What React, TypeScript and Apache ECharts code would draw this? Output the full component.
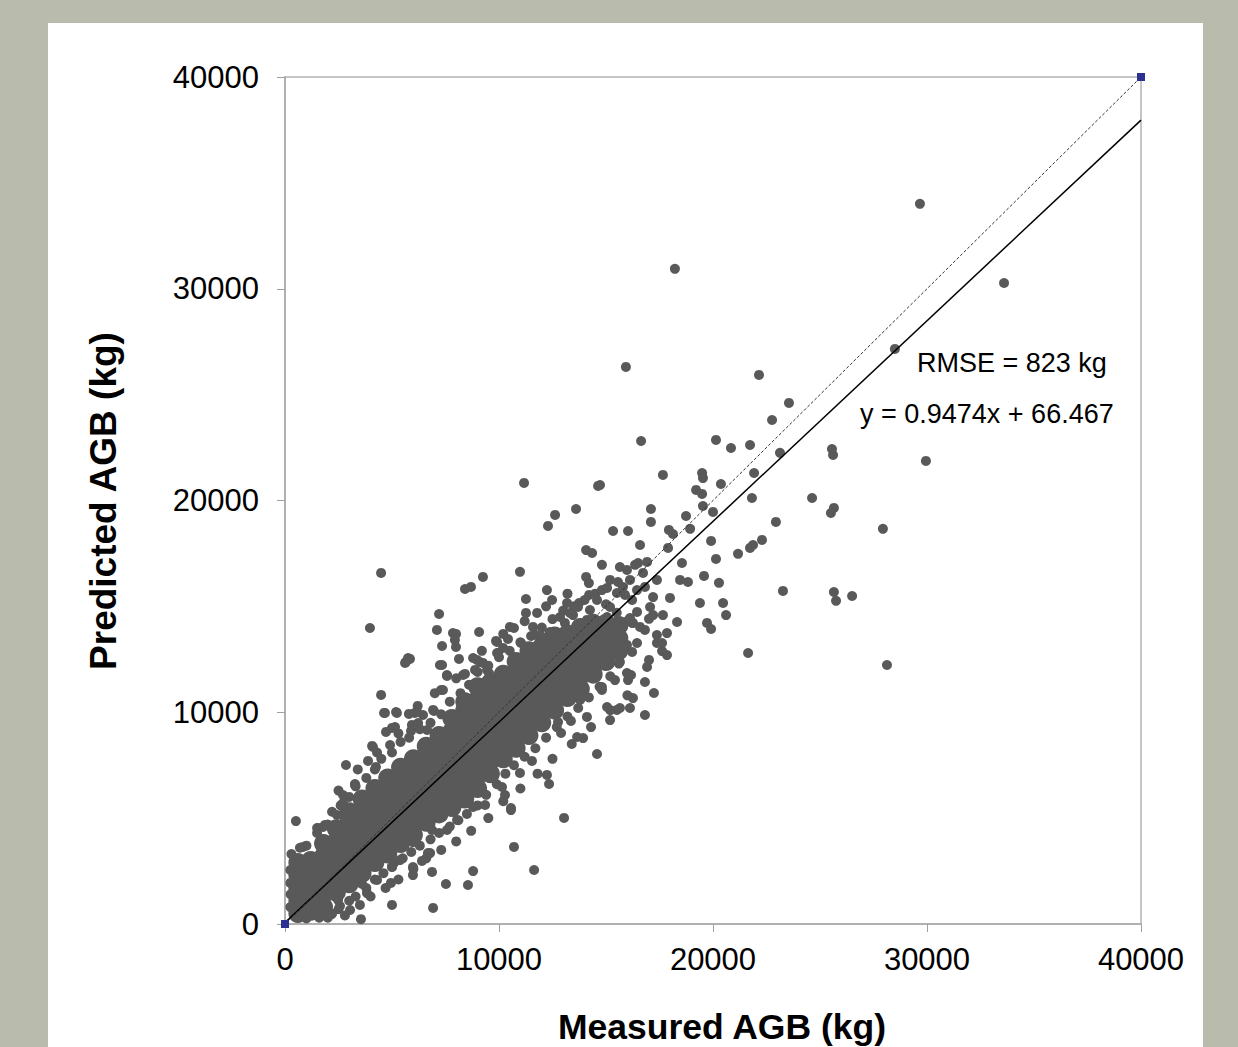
import React, { useEffect, useRef } from "react";
import * as echarts from "echarts";

// Axis ticks
const xTicks = [0, 10000, 20000, 30000, 40000];
const yTicks = [0, 10000, 20000, 30000, 40000];

// Dense core of the cloud: columns of measured x with predicted y values
const coreX = [600, 1200, 1800, 2400, 3000, 3600, 4200, 4800, 5400, 6000, 6600, 7200, 7800, 8400, 9000, 9600, 10200, 10800, 11400, 12000, 12600, 13200, 13800, 14400, 15000, 15600];
const coreY = [
  [500, 1100, 1700, 2300, 2900],
  [600, 1200, 1800, 2400, 3000],
  [800, 1400, 2000, 2600, 3200, 3800],
  [1500, 2100, 2700, 3300, 3900, 4500],
  [1900, 2500, 3100, 3700, 4300, 4900, 5300],
  [2400, 3000, 3600, 4200, 4800, 5400, 5900],
  [2900, 3500, 4100, 4700, 5300, 5900, 6400],
  [3300, 3900, 4500, 5100, 5700, 6300, 6900],
  [3800, 4400, 5000, 5600, 6200, 6800, 7400],
  [4200, 4800, 5400, 6000, 6600, 7200, 7800],
  [4800, 5400, 6000, 6600, 7200, 7800, 8400],
  [5200, 5800, 6400, 7000, 7600, 8200, 8900],
  [5500, 6100, 6700, 7300, 7900, 8500, 9100, 9700],
  [5900, 6500, 7100, 7700, 8300, 8900, 9500, 10100, 10500],
  [6400, 7000, 7600, 8200, 8800, 9400, 10000, 10600, 11200],
  [7100, 7700, 8300, 8900, 9500, 10100, 10700, 11400],
  [7800, 8400, 9000, 9600, 10200, 10800, 11400, 11800],
  [8300, 8900, 9500, 10100, 10700, 11300, 11900, 12400],
  [8900, 9500, 10100, 10700, 11300, 11900, 12500, 12900],
  [9500, 10100, 10700, 11300, 11900, 12500, 13100],
  [10100, 10700, 11300, 11900, 12500, 13100, 13600],
  [10700, 11300, 11900, 12500, 13100, 13700],
  [11100, 11700, 12300, 12900, 13500, 14000],
  [11800, 12400, 13000, 13600, 14200],
  [12400, 13000, 13600, 14200],
  [12900, 13500, 14100],
];

// Individual trees (measured, predicted) outside the dense core
const treePoints: [number, number][] = [
  [29670, 34010], [33600, 30270], [15930, 26310], [18220, 30940], [28500, 27160],
  [22150, 25930], [23550, 24610], [22760, 23800], [16640, 22810], [20140, 22860],
  [20840, 22480], [21730, 22620], [23130, 22250], [25560, 22430], [25610, 22150],
  [29950, 21870], [14720, 20730], [17660, 21210], [19490, 21300], [19530, 21060],
  [21920, 21300], [20370, 20780], [19210, 20500], [19490, 20310], [21820, 20120],
  [24630, 20120], [17100, 19600], [19530, 19740], [20000, 19460], [18740, 19270],
  [17100, 18990], [22940, 18990], [25650, 19650], [25510, 19410], [27940, 18660],
  [15330, 18560], [16030, 18560], [17940, 18610], [18130, 18420], [18930, 18660],
  [16590, 17900], [19910, 18090], [17900, 17760], [22290, 18140], [21870, 17900],
  [21730, 17760], [21170, 17480], [20140, 17240], [15650, 16860], [16360, 16960],
  [16920, 17100], [18550, 17050], [19580, 16440], [20280, 16110], [23270, 15730],
  [25650, 15680], [25750, 15260], [26500, 15490], [19390, 15160], [20470, 15160],
  [20610, 14590], [19720, 14220], [19910, 13930], [21640, 12800], [28130, 12230],
  [11170, 20830], [14630, 20690], [12620, 19320], [13600, 19600], [12290, 18800],
  [14070, 17660], [14350, 17520], [14810, 16960], [9250, 16390], [10980, 16630],
  [8410, 15820], [8690, 15920], [12240, 15770], [11260, 15350], [12480, 15300],
  [14070, 16390], [13740, 15160], [14810, 15770], [15980, 16720], [10510, 14030],
  [9070, 13790], [9860, 13370], [17990, 15400], [18320, 14260], [17850, 13740],
  [17620, 12890], [17010, 12470], [16170, 11760], [16820, 11430], [17240, 10910],
  [4490, 16580], [3970, 13980], [7200, 14640], [7100, 13890], [7990, 13700],
  [7940, 13410], [7990, 13080], [7340, 13130], [5750, 12560], [5610, 12330],
  [10420, 13460], [10700, 13980], [10190, 13040], [9950, 12800], [7240, 12230],
  [8130, 12520], [7570, 11760], [8970, 12470], [8880, 12000], [8410, 11810],
  [7380, 11050], [4490, 10820], [4630, 9970], [5190, 10010], [5790, 9920],
  [6170, 10010], [6960, 10060], [4720, 9070], [5140, 9300], [5890, 9120],
  [6220, 9490], [4070, 8410], [4910, 8450], [2850, 7510], [3880, 7700],
  [4250, 7420], [3270, 6560], [510, 4860], [1540, 4530], [1870, 4680],
  [2430, 5150], [2710, 6090], [840, 3640], [13040, 5010], [10700, 3640],
  [11640, 2550], [8790, 2500], [8550, 1840], [7520, 1890], [6920, 760],
  [5000, 900], [3550, 230], [6870, 2460], [5980, 2310], [5090, 2880],
  [3600, 1890], [2570, 850], [9350, 5620], [10560, 5380], [12240, 7040],
  [12340, 6610], [12760, 9540], [13360, 9590], [13650, 8830], [11540, 7700],
  [10140, 6470], [10280, 6090], [6780, 3350], [6400, 2980], [14580, 8030],
  [13930, 8780], [12900, 9020], [16820, 9870], [16260, 10670], [15510, 10110],
  [15190, 9630], [14110, 9780], [13790, 10580], [14810, 11050], [16030, 11520],
  [16920, 12140], [17850, 12700], [17380, 13270], [16450, 13270], [16820, 13890],
  [15650, 13740], [16260, 14220], [17200, 14590], [10980, 7130], [10560, 5480],
  [8790, 5530], [8040, 4910], [7570, 4440], [6870, 4440], [6680, 3350],
  [5980, 3870], [5370, 3020], [5980, 2690], [5000, 2690], [4300, 2080],
  [3830, 1460], [3040, 660], [2480, 1130], [2100, 430], [1780, 1130],
  [4950, 1940], [7850, 13740], [5650, 12370], [5840, 12520], [7340, 12230],
  [7290, 11050], [7570, 11710], [8320, 11760], [8790, 12560], [9110, 12370],
  [9440, 12000], [9910, 12800], [6920, 10110], [6450, 9870], [6070, 9970],
  [5230, 9970], [4670, 9970], [5000, 9260], [5930, 9400], [6640, 9160],
  [4110, 8360], [3270, 6610], [2710, 5710], [1500, 4530], [1780, 4580],
  [610, 2690], [250, 1940], [250, 2550], [300, 3300], [700, 3600],
  [250, 800], [260, 1400], [1000, 260], [1600, 300], [2200, 480],
  [9250, 12330], [9530, 11850], [9910, 13320], [11030, 13270], [11590, 14030],
  [11730, 13650], [12010, 13560], [12380, 13790], [12850, 13560], [13080, 14220],
  [13460, 14590], [13880, 13980], [14110, 14360], [14250, 14830], [14580, 13790],
  [15050, 14500], [15190, 14970], [15190, 13560], [15510, 13740], [15790, 14030],
  [16120, 14450], [16450, 14740], [16590, 14030], [17060, 14970], [17380, 13650],
  [15980, 13180], [16220, 12850], [15650, 12370], [15980, 11850], [15420, 11520],
  [14810, 11190], [15050, 10250], [15650, 10200], [16120, 10200], [16220, 14220],
  [13320, 14690], [13180, 15160], [13690, 14970], [14210, 15540], [14580, 15300],
  [15050, 15870], [15190, 16250], [15560, 16150], [15790, 15920], [16120, 16250],
  [15890, 15540], [15510, 15630], [16450, 15770], [16820, 15920], [17200, 15440],
  [16220, 15300], [16730, 16580], [16500, 17050], [17380, 16250], [17660, 14590],
  [17010, 14410], [17620, 13270], [18460, 16250], [18830, 16150], [11780, 14690],
  [12850, 14500], [11260, 14690],
];

// Trees crowding just outside the dense core (upper and lower fringes)
const fringePoints: [number, number][] = [
  [1000, 3700], [1500, 4300], [2000, 4700], [2200, 5300], [2600, 5600],
  [3000, 6000], [3300, 6500], [3800, 6900], [4200, 7300], [4500, 7800],
  [5000, 8100], [5400, 8600], [5800, 8800], [6300, 9200], [6800, 9500],
  [7300, 9900], [7700, 10500], [8200, 10900], [8600, 11300], [9000, 11900],
  [9500, 12200], [10000, 12600], [10500, 12900], [11000, 13300], [11500, 13600],
  [12000, 14000], [12500, 14400], [13000, 14800], [13500, 15000], [14000, 15300],
  [14500, 15600], [15000, 15100], [15500, 14700], [16000, 14300],
  [2000, 300], [2500, 700], [3000, 1100], [3300, 1300], [3800, 1700],
  [4200, 2100], [4600, 2400], [5000, 2700], [5500, 3100], [5900, 3400],
  [6300, 3700], [6800, 4000], [7200, 4300], [7700, 4600], [8100, 4900],
  [8500, 5200], [9000, 5600], [9400, 6100], [9900, 6600], [10300, 7100],
  [10700, 7500], [11200, 7900], [11700, 8300], [12200, 8800], [12700, 9300],
  [13200, 9800], [13700, 10200], [14200, 10700], [14700, 11200], [15200, 11700],
  [15600, 12300],
  [2800, 400], [3500, 900], [4000, 1300], [4700, 1700], [5300, 2100],
  [6000, 2600], [6600, 3100], [7300, 3500], [8000, 3900], [8700, 4400],
  [9500, 5000], [10200, 5800], [11000, 6400], [11800, 7100], [12500, 7800],
  [13400, 8500], [14300, 9300], [15200, 10100], [16000, 10800],
  [2500, 6300], [3400, 7300], [4300, 8100], [5300, 9000], [6200, 10300],
  [7000, 10900], [8000, 11600], [9200, 12900], [10200, 13700], [11200, 14300],
  [12200, 15000], [13200, 15600], [14200, 16100],
];

// 1:1 reference line and fitted trend line (y = 0.9474x + 66.467)
const oneToOneX = [0, 40000];
const oneToOneY = [0, 40000];
const trendX = [0, 40000];
const trendY = [66, 37963];

const FONT = "'Liberation Sans', Arial, sans-serif";
const DOT = "#595959";

export default function App() {
  const ref = useRef<HTMLDivElement>(null);

  useEffect(() => {
    if (!ref.current) return;
    const chart = echarts.init(ref.current, undefined, { renderer: "svg" });

    const coreData: [number, number][] = [];
    coreX.forEach((x, i) => coreY[i].forEach((y) => coreData.push([x, y])));

    const axisCommon = {
      type: "value",
      interval: 10000,
      splitLine: { show: false },
      axisLine: { show: true, onZero: false, lineStyle: { color: "#b0b0b0", width: 2 } },
      axisTick: { show: true, inside: false, length: 8, lineStyle: { color: "#a0a0a0", width: 1 } },
    };

    chart.setOption({
      animation: false,
      backgroundColor: "#ffffff",
      grid: {
        left: 237,
        top: 54,
        right: 62,
        bottom: 123,
        show: true,
        borderColor: "#8c8c8c",
        borderWidth: 1,
        backgroundColor: "transparent",
      },
      xAxis: {
        ...axisCommon,
        min: xTicks[0],
        max: xTicks[xTicks.length - 1],
        axisLabel: {
          margin: 20,
          color: "#000",
          fontSize: 31,
          fontFamily: FONT,
          formatter: (v: number) => String(v),
        },
      },
      yAxis: {
        ...axisCommon,
        min: yTicks[0],
        max: yTicks[yTicks.length - 1],
        axisLabel: {
          margin: 26,
          color: "#000",
          fontSize: 31,
          fontFamily: FONT,
          formatter: (v: number) => String(v),
        },
      },
      graphic: [
        {
          type: "text",
          x: 674,
          y: 1004,
          style: {
            text: "Measured AGB (kg)",
            fill: "#000",
            font: `bold 35.5px ${FONT}`,
            textAlign: "center",
            textVerticalAlign: "middle",
          },
        },
        {
          type: "text",
          x: 55,
          y: 478,
          rotation: Math.PI / 2,
          style: {
            text: "Predicted AGB (kg)",
            fill: "#000",
            font: `bold 37px ${FONT}`,
            textAlign: "center",
            textVerticalAlign: "middle",
          },
        },
        {
          type: "text",
          x: 869,
          y: 340,
          z: 100,
          style: {
            text: "RMSE = 823 kg",
            fill: "#000",
            font: `27px ${FONT}`,
            textAlign: "left",
            textVerticalAlign: "middle",
          },
        },
        {
          type: "text",
          x: 812,
          y: 391,
          z: 100,
          style: {
            text: "y = 0.9474x + 66.467",
            fill: "#000",
            font: `27px ${FONT}`,
            textAlign: "left",
            textVerticalAlign: "middle",
          },
        },
      ],
      series: [
        {
          name: "core",
          type: "scatter",
          data: coreData,
          symbol: "circle",
          symbolSize: 19,
          itemStyle: { color: DOT, opacity: 1 },
          z: 2,
        },
        {
          name: "fringe",
          type: "scatter",
          data: fringePoints,
          symbol: "circle",
          symbolSize: 10,
          itemStyle: { color: DOT, opacity: 1 },
          z: 2,
        },
        {
          name: "trees",
          type: "scatter",
          data: treePoints,
          symbol: "circle",
          symbolSize: 10,
          itemStyle: { color: DOT, opacity: 1 },
          z: 2,
        },
        {
          name: "1:1",
          type: "line",
          data: oneToOneX.map((x, i) => [x, oneToOneY[i]]),
          symbol: "rect",
          symbolSize: 8,
          showSymbol: true,
          itemStyle: { color: "#2e3192" },
          lineStyle: { color: "#333333", width: 1, type: [3, 2] },
          z: 4,
        },
        {
          name: "trend",
          type: "line",
          data: trendX.map((x, i) => [x, trendY[i]]),
          symbol: "none",
          lineStyle: { color: "#000", width: 1.5 },
          z: 3,
        },
      ],
    });

    return () => chart.dispose();
  }, []);

  return (
    <div
      style={{
        position: "absolute",
        left: 0,
        top: 0,
        width: 1238,
        height: 1047,
        background: "#b9bbac",
        overflow: "hidden",
      }}
    >
      <div
        ref={ref}
        style={{ position: "absolute", left: 48, top: 23, width: 1155, height: 1024 }}
      />
    </div>
  );
}
